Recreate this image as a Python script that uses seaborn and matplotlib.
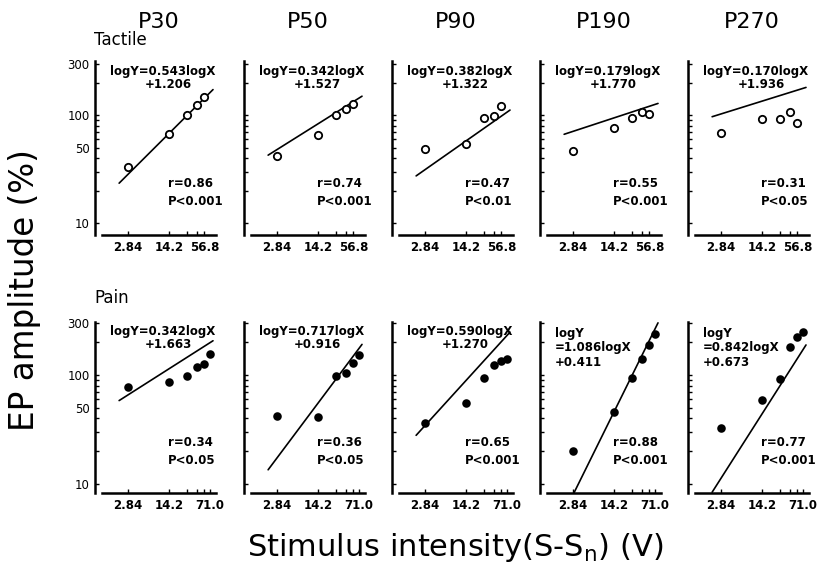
import numpy as np
import pandas as pd
import matplotlib
matplotlib.use("Agg")
import matplotlib.pyplot as plt
import seaborn as sns
from matplotlib.ticker import FixedLocator, FixedFormatter, NullLocator

# ---- data -------------------------------------------------------------
groups = ["P30", "P50", "P90", "P190", "P270"]

intensity_tactile = [2.84, 14.2, 28.4, 42.6, 56.8]
intensity_pain = [2.84, 14.2, 28.4, 42.6, 56.8, 71.0]

tactile_amp = {
    "P30": [33, 67, 100, 124, 148],
    "P50": [42, 65, 100, 114, 128],
    "P90": [49, 54, 95, 99, 122],
    "P190": [47, 77, 95, 108, 104],
    "P270": [69, 92, 92, 108, 84],
}
pain_amp = {
    "P30": [78, 87, 98, 119, 125, 155],
    "P50": [42, 41.5, 98, 105, 128, 152],
    "P90": [36, 56, 94, 123, 135, 140],
    "P190": [20, 45.5, 93, 140, 190, 236],
    "P270": [33, 59, 91, 182, 222, 248],
}

# regression logY = a*logX + b, with correlation and significance
tactile_slope = [0.543, 0.342, 0.382, 0.179, 0.170]
tactile_icpt = [1.206, 1.527, 1.322, 1.770, 1.936]
tactile_r = [0.86, 0.74, 0.47, 0.55, 0.31]
tactile_p = ["P<0.001", "P<0.001", "P<0.01", "P<0.001", "P<0.05"]

pain_slope = [0.342, 0.717, 0.590, 1.086, 0.842]
pain_icpt = [1.663, 0.916, 1.270, 0.411, 0.673]
pain_r = [0.34, 0.36, 0.65, 0.88, 0.77]
pain_p = ["P<0.05", "P<0.05", "P<0.001", "P<0.001", "P<0.001"]

y_ticks = [10, 20, 30, 40, 50, 60, 70, 80, 90, 100, 200, 300]
y_labeled = [10, 50, 100, 300]
x_ticks_tactile = [2.84, 14.2, 28.4, 42.6, 56.8]
x_labels_tactile = ["2.84", "14.2", "", "", "56.8"]
x_ticks_pain = [2.84, 14.2, 28.4, 42.6, 56.8, 71.0]
x_labels_pain = ["2.84", "14.2", "", "", "", "71.0"]

FIT_RANGE = (2.0, 80.0)

# ---- long-form table --------------------------------------------------
rows = []
for g in groups:
    for x, y in zip(intensity_tactile, tactile_amp[g]):
        rows.append(("Tactile", g, x, y))
    for x, y in zip(intensity_pain, pain_amp[g]):
        rows.append(("Pain", g, x, y))
df = pd.DataFrame(rows, columns=["modality", "group", "intensity", "amplitude"])

# ---- figure -----------------------------------------------------------
sns.set_style("ticks")
plt.rcParams["font.family"] = ["DejaVu Sans"]
plt.rcParams["mathtext.default"] = "regular"
for key in ("text.color", "axes.labelcolor", "xtick.color", "ytick.color",
            "axes.edgecolor"):
    plt.rcParams[key] = "black"

W, H = 819, 579
fig = plt.figure(figsize=(W / 100, H / 100), dpi=100)

col_left = [102, 251, 399, 547, 695]
ax_w = 114
row_spec = {
    "Tactile": dict(top=61, bottom=235, ylim=(7.72, 320)),
    "Pain": dict(top=322, bottom=493, ylim=(8.3, 306)),
}

for modality in ["Tactile", "Pain"]:
    spec = row_spec[modality]
    h_px = spec["bottom"] - spec["top"]
    if modality == "Tactile":
        slopes, icpts, rs, ps = tactile_slope, tactile_icpt, tactile_r, tactile_p
        xt, xl = x_ticks_tactile, x_labels_tactile
    else:
        slopes, icpts, rs, ps = pain_slope, pain_icpt, pain_r, pain_p
        xt, xl = x_ticks_pain, x_labels_pain

    for i, g in enumerate(groups):
        ax = fig.add_axes([col_left[i] / W, 1 - spec["bottom"] / H,
                           ax_w / W, h_px / H])
        ax.set_xscale("log")
        ax.set_yscale("log")

        sub = df[(df.modality == modality) & (df.group == g)]
        if modality == "Tactile":
            sns.scatterplot(data=sub, x="intensity", y="amplitude", ax=ax,
                            marker="o", s=28, color="white",
                            edgecolor="black", linewidth=1.3,
                            legend=False, zorder=3)
        else:
            sns.scatterplot(data=sub, x="intensity", y="amplitude", ax=ax,
                            marker="o", s=38, color="black",
                            edgecolor="black", linewidth=0,
                            legend=False, zorder=3)

        xs = np.geomspace(FIT_RANGE[0], FIT_RANGE[1], 40)
        fit = pd.DataFrame({"x": xs,
                            "y": 10 ** (slopes[i] * np.log10(xs) + icpts[i])})
        sns.lineplot(data=fit, x="x", y="y", ax=ax, color="black",
                     linewidth=1.2, zorder=2)

        ax.set_xlim(1.02, 90)
        ax.set_ylim(*spec["ylim"])
        ax.set_xlabel("")
        ax.set_ylabel("")

        ax.xaxis.set_major_locator(FixedLocator(xt))
        ax.xaxis.set_major_formatter(FixedFormatter(xl))
        ax.xaxis.set_minor_locator(NullLocator())
        ax.yaxis.set_major_locator(FixedLocator(y_ticks))
        if i == 0:
            ax.yaxis.set_major_formatter(FixedFormatter(
                [str(v) if v in y_labeled else "" for v in y_ticks]))
        else:
            ax.yaxis.set_major_formatter(FixedFormatter([""] * len(y_ticks)))
        ax.yaxis.set_minor_locator(NullLocator())
        ax.tick_params(direction="in", length=3, width=1, labelsize=8.5,
                       pad=4, colors="black")
        for lbl in ax.get_xticklabels() + ax.get_yticklabels():
            lbl.set_fontweight("bold")

        sns.despine(ax=ax)
        ax.spines["left"].set_position(("outward", 5))
        for s in ("left", "bottom"):
            ax.spines[s].set_linewidth(1.8)
            ax.spines[s].set_color("black")

        # regression annotation
        eq_kw = dict(transform=ax.transAxes, fontsize=8.5, weight="bold",
                     va="center", color="black")
        if modality == "Pain" and i >= 3:
            lines = ["logY", f"={slopes[i]:.3f}logX", f"+{icpts[i]:.3f}"]
            for k, t in enumerate(lines):
                ax.text(0.07, 1 - (11 + 14.5 * k) / h_px, t, ha="left", **eq_kw)
        else:
            ax.text(0.535, 1 - 10 / h_px, f"logY={slopes[i]:.3f}logX",
                    ha="center", **eq_kw)
            ax.text(0.585, 1 - 23 / h_px, f"+{icpts[i]:.3f}",
                    ha="center", **eq_kw)
        ax.text(0.58, 0.298, f"r={rs[i]:.2f}", ha="left", **eq_kw)
        ax.text(0.58, 0.19, ps[i], ha="left", **eq_kw)

        if modality == "Tactile":
            fig.text((col_left[i] + ax_w / 2) / W, 1 - 22 / H, g,
                     ha="center", va="center", fontsize=16)

fig.text(94 / W, 1 - 40 / H, "Tactile", ha="left", va="center", fontsize=12)
fig.text(94 / W, 1 - 298 / H, "Pain", ha="left", va="center", fontsize=12)

fig.text(25 / W, 1 - 290 / H, "EP amplitude (%)", rotation=90,
         ha="center", va="center", fontsize=23.5)
fig.text(455 / W, 1 - 548 / H, "Stimulus intensity(S-S$_n$) (V)",
         ha="center", va="center", fontsize=22)

fig.savefig("out.png", dpi=100)
